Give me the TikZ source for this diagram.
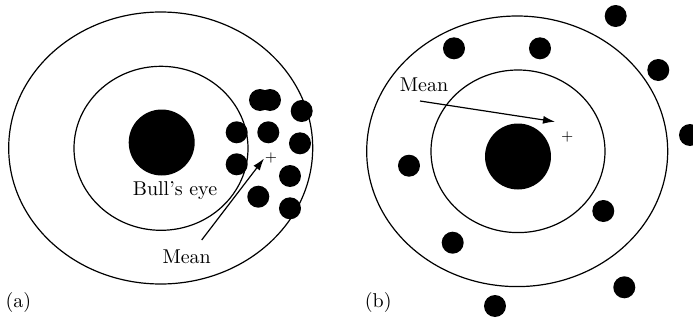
\documentclass[tikz,border=0pt]{standalone}
\usetikzlibrary{positioning,arrows.meta}

\begin{document}
\begin{tikzpicture}[x=0.5pt, y=-0.5pt,
    ring/.style={line width=0.6pt},
    eyenode/.style={circle, fill=black, minimum size=33pt, inner sep=0pt},
    hitnode/.style={circle, fill=black, minimum size=11pt, inner sep=0pt},
    meanmark/.style={font=\scriptsize, inner sep=0pt},
    meanarrow/.style={-{Latex[length=6pt, width=4pt]}, line width=0.6pt},
  ]
  \useasboundingbox (0,0) rectangle (693,322);

  % Target (a) - shots grouped tightly, off to the right of the bull's eye
  \draw[ring] (160.7,148) ellipse [x radius=152, y radius=136];
  \draw[ring] (161,148.3) ellipse [x radius=87, y radius=82];
  \node[eyenode] (eyeA) at (161.7,142.5) {};
  \node (eyelabel) at (175,191) {Bull's eye};
  \node[hitnode] (a1) at (260,100) {};
  \node[hitnode] (a2) at (270,100) {};
  \node[hitnode] (a3) at (301.7,111) {};
  \node[hitnode] (a4) at (236.7,132.3) {};
  \node[hitnode] (a5) at (268.3,132.3) {};
  \node[hitnode] (a6) at (300,143.3) {};
  \node[hitnode] (a7) at (236.7,164.3) {};
  \node[hitnode] (a8) at (290,176) {};
  \node[hitnode] (a9) at (258.3,196.7) {};
  \node[hitnode] (a10) at (290,208.3) {};
  \node[meanmark] (plusA) at (271,158) {+};
  \node (meanA) at (186.7,257) {Mean};
  \coordinate (fromA) at (201.7,240);
  \coordinate (tipA) at (264,158.5);
  \draw[meanarrow] (fromA) -- (tipA);
  \node (capA) at (18.3,302) {(a)};

  % Target (b) - shots scattered, mean close to the bull's eye
  \draw[ring] (517.2,151.3) ellipse [x radius=150.5, y radius=135.3];
  \draw[ring] (518,151.3) ellipse [x radius=87, y radius=81.3];
  \node[eyenode] (eyeB) at (518,156.5) {};
  \node[hitnode] (b1) at (615.7,16) {};
  \node[hitnode] (b2) at (454,48.3) {};
  \node[hitnode] (b3) at (540,48.3) {};
  \node[hitnode] (b4) at (658.3,70) {};
  \node[hitnode] (b5) at (690,135) {};
  \node[hitnode] (b6) at (409,165.7) {};
  \node[hitnode] (b7) at (603.3,211) {};
  \node[hitnode] (b8) at (452.7,242.7) {};
  \node[hitnode] (b9) at (624.3,287.3) {};
  \node[hitnode] (b10) at (495,306) {};
  \node[meanmark] (plusB) at (567.3,136.7) {+};
  \node (meanB) at (424,85) {Mean};
  \coordinate (fromB) at (420,101);
  \coordinate (tipB) at (555,121.7);
  \draw[meanarrow] (fromB) -- (tipB);
  \node (capB) at (378.3,302) {(b)};
\end{tikzpicture}
\end{document}
